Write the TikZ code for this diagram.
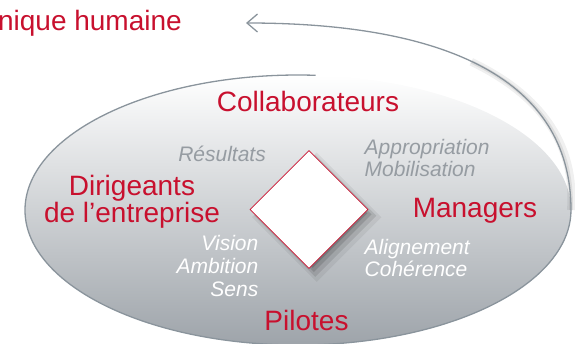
\documentclass[tikz,border=0pt]{standalone}
\usepackage{fontspec}
\setmainfont{Liberation Sans}
\usetikzlibrary{arrows.meta,shapes.geometric,shadows}

\definecolor{rougeD}{RGB}{200,16,46}
\definecolor{grisD}{RGB}{150,156,162}
\definecolor{traitD}{RGB}{138,148,156}
\definecolor{fondD}{RGB}{158,164,170}

\begin{document}
\begin{tikzpicture}[x=1pt,y=-1pt,
  acteur/.style={inner sep=0, text=rougeD, font=\fontsize{28}{25}\selectfont},
  levier/.style={inner sep=0, text=grisD, font=\fontsize{21}{22.7}\selectfont\itshape},
  levierblanc/.style={levier, text=white},
  spirale/.style={draw=traitD, line width=1.3}]
\useasboundingbox (0,0) rectangle (575,343);

% fond degrade
\shade[top color=white, bottom color=fondD] (298,210) ellipse [x radius=273, y radius=135];

\coordinate (debut) at (315.6,75.3);
\coordinate (droite) at (571,210);
\coordinate (pointe) at (246,23);
\coordinate (milieu) at (471.3,61.8);

% ombre de la fleche (cote droit seulement)
\draw[black, opacity=0.06, line width=8, xshift=5pt, yshift=-3pt] (droite) .. controls (571,142.9) and (537.7,93) .. (milieu);
\draw[black, opacity=0.08, line width=3.5, xshift=2.5pt, yshift=-1.5pt] (droite) .. controls (571,142.9) and (537.7,93) .. (milieu);

\draw[spirale] (debut) arc[start angle=-86.3, end angle=-360, x radius=273, y radius=135];
\draw[spirale, -{Straight Barb[length=10.5pt, width=18pt]}] (droite) .. controls (571,88) and (461,23) .. (pointe);

\node[diamond, draw=rougeD, fill=white, line width=0.8, minimum width=118, minimum height=118, inner sep=0,
  drop shadow={shadow xshift=7pt, shadow yshift=-7pt, shadow scale=1.1, opacity=0.06, fill=black},
  drop shadow={shadow xshift=6pt, shadow yshift=-6pt, shadow scale=1.04, opacity=0.10, fill=black},
  drop shadow={shadow xshift=5pt, shadow yshift=-5pt, shadow scale=0.98, opacity=0.13, fill=black},
  drop shadow={shadow xshift=4pt, shadow yshift=-4pt, shadow scale=0.93, opacity=0.16, fill=black}]
  (losange) at (309,209.5) {};

\node[acteur, anchor=base east] (dynamique) at (182,30) {nique humaine};
\node[acteur, anchor=base] (collaborateurs) at (308,111.5) {Collaborateurs};
\node[acteur, anchor=base, align=center] (dirigeants) at (132,222.7) {Dirigeants\\de l’entreprise};
\node[acteur, anchor=base] (managers) at (475,217) {Managers};
\node[acteur, anchor=base] (pilotes) at (306.5,330) {Pilotes};

\node[levier, anchor=base east] (resultats) at (266,161) {Résultats};
\node[levier, anchor=base west, align=left] (appropriation) at (364.5,176.7) {Appropriation\\Mobilisation};
\node[levierblanc, anchor=base east, align=right] (vision) at (258.5,296) {Vision\\Ambition\\Sens};
\node[levierblanc, anchor=base west, align=left] (alignement) at (364.5,276.7) {Alignement\\Cohérence};

\end{tikzpicture}
\end{document}
